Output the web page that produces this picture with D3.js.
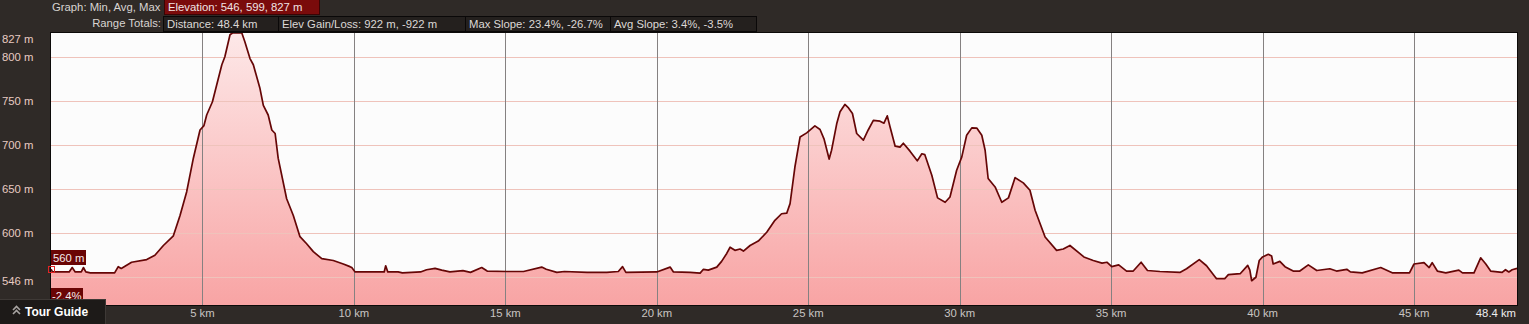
<!DOCTYPE html>
<html>
<head>
<meta charset="utf-8">
<script src="https://cdn.jsdelivr.net/npm/d3@7"></script>
<style>
  html, body { margin: 0; padding: 0; background: #2f2a27; }
  svg { display: block; font-family: "Liberation Sans", Arial, sans-serif; }
</style>
</head>
<body>
<svg id="chart" width="1529" height="324"></svg>
<script>
// distance along the route (km) and elevation (m)
var distKm = [0.00,0.05,0.60,0.70,0.80,1.00,1.07,1.15,1.30,2.10,2.22,2.32,2.66,3.16,3.43,3.71,4.04,4.26,4.48,4.70,
  4.92,5.05,5.14,5.33,5.47,5.64,5.74,5.91,5.99,6.30,6.40,6.57,6.68,6.90,7.01,7.17,7.29,7.40,7.50,7.78,
  8.00,8.22,8.44,8.66,8.94,9.32,9.65,9.87,9.93,10.04,10.50,11.00,11.05,11.12,11.46,11.60,12.20,12.40,12.68,12.90,
  13.17,13.60,13.85,14.22,14.40,15.04,15.60,16.20,16.35,16.70,16.95,17.70,18.35,18.73,18.87,18.98,20.00,20.44,20.55,21.10,
  21.43,21.54,21.70,21.98,22.14,22.31,22.42,22.58,22.75,22.86,23.08,23.35,23.63,23.90,24.12,24.29,24.40,24.56,24.73,24.95,
  25.22,25.39,25.52,25.69,25.77,25.94,26.05,26.21,26.33,26.46,26.60,26.82,26.98,27.15,27.37,27.50,27.61,27.70,27.87,28.03,
  28.14,28.36,28.60,28.75,28.85,29.08,29.27,29.52,29.68,29.90,30.07,30.23,30.40,30.57,30.73,30.84,30.94,31.17,31.39,31.61,
  31.83,32.10,32.32,32.49,32.82,33.20,33.42,33.64,33.97,34.10,34.41,34.70,34.86,35.02,35.25,35.51,35.73,35.99,36.20,36.61,
  37.27,37.49,37.91,38.15,38.48,38.75,38.87,39.26,39.51,39.58,39.64,39.78,39.89,40.00,40.19,40.30,40.35,40.57,40.74,41.01,
  41.23,41.51,41.79,42.22,42.44,42.78,42.90,43.29,43.90,44.28,44.85,45.00,45.33,45.50,45.60,45.77,46.05,46.48,46.60,46.98,
  47.20,47.37,47.53,47.91,48.02,48.13,48.24,48.40];
var elevM = [559,556,556,561,556,556,561,556,555,555,562,560,567,570,575,586,597,620,647,685,
  717,722,734,749,768,791,800,825,827,827,817,798,791,764,745,734,717,713,685,639,
  620,596,588,579,571,569,565,562,561,556,556,556,563,556,556,555,556,558.5,560,558,
  556,557.5,555.5,561,557,556.5,556.5,561.5,559,555.5,556.5,555.5,555.5,556.5,562,555.5,556,561.5,556,555.5,
  554.7,559,558,561.5,568,577,584,580.5,582,579.7,586,591,601,614.6,622,622.6,633.5,675,709,713.7,
  721.7,717.6,707,684,694,724,737.6,746,742,735.7,713,705.5,717,728,727,724.7,733,720.6,698.6,697.6,
  702,693,682,690,689,665.7,640,635,641,671.4,686.5,711,719.4,719,711,694,662,652.4,635,640,
  663,657,648.6,626,595.6,580.5,582,586,576.7,573,569,566,567,562,564,557,557,567,557.6,556.5,
  555.5,559.6,570,563,548.3,548.3,553,554,563.4,558,546,550,569,573,576,574,565,568,562,557,
  557,564,557.6,559.6,557,559,556,555,561,555,555,565,566.5,561,566.5,557,555,558,555,555,
  572,565,557,555.5,558.5,556,558.5,560];

var yLabels = [827, 800, 750, 700, 650, 600, 546];
var yGrid = [800, 750, 700, 650, 600, 550];
var xTicks = [5, 10, 15, 20, 25, 30, 35, 40, 45];

var headerRow1 = ["Elevation: 546, 599, 827 m"];
var headerRow2 = ["Distance: 48.4 km", "Elev Gain/Loss: 922 m, -922 m", "Max Slope: 23.4%, -26.7%", "Avg Slope: 3.4%, -3.5%"];
var cursorElev = "560 m";
var cursorSlope = "-2.4%";

var svg = d3.select("#chart");
var L = 51, R = 1517, T = 33, B = 305;
var fs = 11.3;

var x = d3.scaleLinear().domain([0, 48.4]).range([L, R]);
var y = d3.scaleLinear().domain([518.5, 827]).range([B, T]);

var data = distKm.map(function(d, i){ return [d, elevM[i]]; });

var defs = svg.append("defs");
var grad = defs.append("linearGradient").attr("id", "fillGrad")
  .attr("gradientUnits", "userSpaceOnUse")
  .attr("x1", 0).attr("x2", 0).attr("y1", T).attr("y2", B);
grad.append("stop").attr("offset", "0%").attr("stop-color", "#fde8e8");
grad.append("stop").attr("offset", "100%").attr("stop-color", "#f8a4a4");

// plot background
svg.append("rect").attr("x", L).attr("y", T).attr("width", R - L).attr("height", B - T)
  .attr("fill", "#fcfcfc");

// filled profile
svg.append("path").datum(data)
  .attr("fill", "url(#fillGrad)")
  .attr("d", d3.area().x(function(d){ return x(d[0]); }).y0(B).y1(function(d){ return y(d[1]); }));

// grid
svg.append("g").selectAll("line").data(yGrid).enter().append("line")
  .attr("x1", L).attr("x2", R)
  .attr("y1", function(d){ return Math.round(y(d)) + 0.5; })
  .attr("y2", function(d){ return Math.round(y(d)) + 0.5; })
  .attr("stroke", "#efc3bb").attr("stroke-width", 1);
svg.append("g").selectAll("line").data(xTicks).enter().append("line")
  .attr("x1", function(d){ return Math.round(x(d)) + 0.5; })
  .attr("x2", function(d){ return Math.round(x(d)) + 0.5; })
  .attr("y1", T).attr("y2", B)
  .attr("stroke", "#858181").attr("stroke-width", 1);

// profile line
svg.append("path").datum(data)
  .attr("fill", "none")
  .attr("stroke", "#650606").attr("stroke-width", 1.7)
  .attr("stroke-linejoin", "round")
  .attr("d", d3.line().x(function(d){ return x(d[0]); }).y(function(d){ return y(d[1]); }));

// frame
svg.append("rect").attr("x", L - 0.5).attr("y", T - 0.5).attr("width", R - L + 1).attr("height", B - T + 1)
  .attr("fill", "none").attr("stroke", "#0c0a09").attr("stroke-width", 1);

// y labels
svg.append("g").selectAll("text").data(yLabels).enter().append("text")
  .attr("x", 2)
  .attr("y", function(d){ return Math.max(y(d), 39); })
  .attr("dy", "0.35em")
  .attr("fill", "#e8cac2").attr("font-size", fs)
  .text(function(d){ return d + " m"; });

// x labels
svg.append("g").selectAll("text").data(xTicks).enter().append("text")
  .attr("x", function(d){ return x(d); })
  .attr("y", 317)
  .attr("text-anchor", "middle")
  .attr("fill", "#c8c4c2").attr("font-size", fs)
  .text(function(d){ return d + " km"; });
svg.append("text").attr("x", R - 1).attr("y", 317).attr("text-anchor", "end")
  .attr("fill", "#eeeeee").attr("font-size", fs).text("48.4 km");

// header
svg.append("text").attr("x", 52).attr("y", 11).attr("fill", "#d8d4d2").attr("font-size", fs)
  .text("Graph: Min, Avg, Max");
svg.append("rect").attr("x", 164.5).attr("y", -0.5).attr("width", 155).attr("height", 15)
  .attr("fill", "#7a0b0b").attr("stroke", "#3a0404");
svg.append("text").attr("x", 168).attr("y", 11).attr("fill", "#f0e4e4").attr("font-size", fs)
  .text(headerRow1[0]);

svg.append("text").attr("x", 161).attr("y", 27).attr("text-anchor", "end")
  .attr("fill", "#d8d4d2").attr("font-size", fs).text("Range Totals:");
var boxX = [163, 278, 465, 610, 756];
headerRow2.forEach(function(t, i){
  svg.append("rect").attr("x", boxX[i] + 0.5).attr("y", 16.5)
    .attr("width", boxX[i + 1] - boxX[i]).attr("height", 15)
    .attr("fill", "#24201e").attr("stroke", "#0a0808");
  svg.append("text").attr("x", boxX[i] + 4).attr("y", 27.5)
    .attr("fill", "#dcd8d6").attr("font-size", fs).text(t);
});

// cursor marker
svg.append("rect").attr("x", 48.5).attr("y", 266.5).attr("width", 6).attr("height", 6)
  .attr("fill", "none").attr("stroke", "#e02424").attr("stroke-width", 1);
svg.append("rect").attr("x", 51).attr("y", 250).attr("width", 35).attr("height", 15).attr("fill", "#6a0505");
svg.append("text").attr("x", 53).attr("y", 261.5).attr("fill", "#f4eaea").attr("font-size", fs).text(cursorElev);
svg.append("rect").attr("x", 51).attr("y", 288).attr("width", 32).attr("height", 16).attr("fill", "#6a0505");
svg.append("text").attr("x", 52).attr("y", 300).attr("fill", "#f4eaea").attr("font-size", fs).text(cursorSlope);

// tour guide button
svg.append("rect").attr("x", -1).attr("y", 299.5).attr("width", 106.5).attr("height", 26)
  .attr("fill", "#1d1a18").attr("stroke", "#3e3936");
var chev = svg.append("g").attr("fill", "none").attr("stroke", "#a8a4a2").attr("stroke-width", 1.6);
chev.append("path").attr("d", "M13,310 L16.5,306.5 L20,310");
chev.append("path").attr("d", "M13,314 L16.5,310.5 L20,314");
svg.append("text").attr("x", 25).attr("y", 316).attr("fill", "#ffffff")
  .attr("font-size", 12).attr("font-weight", "bold").text("Tour Guide");
</script>
</body>
</html>
